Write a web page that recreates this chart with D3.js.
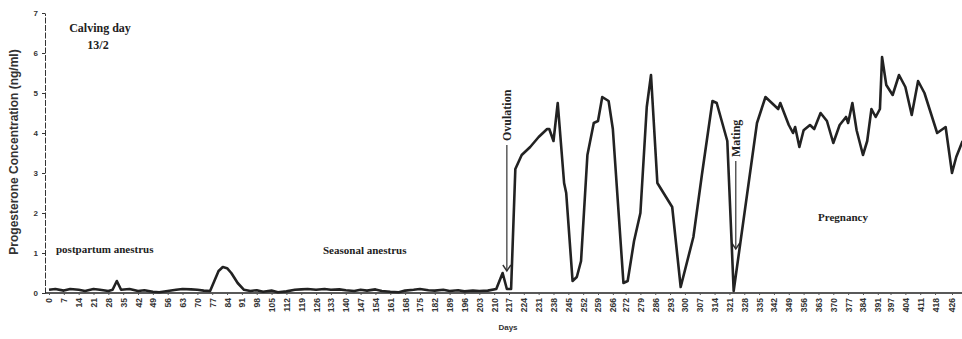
<!DOCTYPE html>
<html>
<head>
<meta charset="utf-8">
<script src="https://cdn.jsdelivr.net/npm/d3@7"></script>
<style>
  body { margin: 0; background: #fff; }
  svg { display: block; }
</style>
</head>
<body>
<div id="canvas"></div>
<script>
// tick labels on the x axis (days)
const dayTicks = [0,7,14,21,28,35,42,49,56,63,70,77,84,91,98,105,112,119,126,133,140,147,154,161,168,175,182,189,196,203,210,217,224,231,238,245,252,259,266,
  272,279,286,293,300,307,314,321,328,335,342,349,356,363,370,377,384,391,397,404,411,418,426];
const yTicks = [0,1,2,3,4,5,6,7];

// sample days and progesterone values (ng/ml)
const days = [0,3,7,10,14,17,21,24,28,30,32,34,38,42,45,49,52,56,60,63,67,70,73,76,78,80,82,84,86,89,92,95,98,101,105,108,112,116,119,122,126,130,133,137,140,144,147,150,154,157,161,165,168,172,175,179,182,186,189,193,196,200,203,207,211,214,216,218,
  220,223,227,231,235,236,238,240,243,244,247,249,251,254,257,259,261,264,266,271,273,276,279,282,284,287,294,298,304,308,313,315,320,323,
  334,338,342,344,345,349,351,352,354,356,359,361,364,367,370,373,376,377,379,381,384,386,388,390,392,393,395,398,401,404,407,410,413,419,423,426,428,431];
const values = [0.08,0.1,0.06,0.1,0.08,0.05,0.1,0.08,0.05,0.08,0.3,0.08,0.1,0.05,0.07,0.03,0.02,0.05,0.08,0.1,0.09,0.08,0.06,0.05,0.3,0.55,0.65,0.62,0.5,0.25,0.08,0.05,0.07,0.03,0.06,0.02,0.04,0.08,0.09,0.1,0.08,0.1,0.08,0.09,0.07,0.05,0.08,0.06,0.09,0.05,0.03,0.02,0.06,0.08,0.1,0.07,0.06,0.08,0.05,0.07,0.04,0.06,0.05,0.06,0.1,0.5,0.1,0.1,
  3.1,3.45,3.65,3.9,4.1,4.1,3.8,4.75,2.75,2.5,0.3,0.4,0.8,3.45,4.25,4.3,4.9,4.8,4.1,0.25,0.3,1.3,2.0,4.65,5.45,2.75,2.15,0.15,1.4,2.95,4.8,4.75,3.8,0.05,
  4.25,4.9,4.7,4.6,4.75,4.2,4.0,4.15,3.65,4.07,4.2,4.1,4.5,4.3,3.75,4.2,4.4,4.25,4.75,4.07,3.45,3.8,4.6,4.4,4.6,5.9,5.2,4.95,5.45,5.15,4.45,5.3,5.0,4.0,4.15,3.0,3.4,3.8];

// event arrows: label, day, value where the arrow points, top of arrow
const eventNames = ["Ovulation", "Mating"];
const eventDays = [216, 324];
const eventTips = [0.55, 1.1];
const eventTops = [3.7, 3.3];

class ChartCreator {
  constructor() {
    this.width = 962;
    this.height = 339;
  }

  GetRenderSVG() {
    return d3.select("#canvas").append("svg")
      .attr("width", this.width)
      .attr("height", this.height);
  }

  GetXScale() {
    return d3.scaleLinear().domain([0, 426]).range([49, 952]);
  }

  GetYScale() {
    return d3.scaleLinear().domain([0, 7]).range([293, 13]);
  }

  DrawYScale(svg, yScale) {
    let g = svg.append("g")
      .attr("transform", "translate(45,0)")
      .call(d3.axisLeft(yScale).tickValues(yTicks).tickFormat(d3.format("d"))
        .tickSize(3).tickPadding(4).tickSizeOuter(0));
    g.select(".domain").attr("stroke", "#333").attr("stroke-dasharray", "6 1.5");
    g.selectAll(".tick line").attr("stroke", "#333");
    g.selectAll("text")
      .attr("font-family", "Liberation Sans, Arial, sans-serif")
      .attr("font-weight", "bold")
      .attr("font-size", "8px")
      .attr("fill", "#333");
  }

  DrawXScale(svg, xScale) {
    svg.append("line")
      .attr("x1", 45).attr("x2", 962)
      .attr("y1", 293).attr("y2", 293)
      .attr("stroke", "#222").attr("stroke-width", 1.5);
    let g = svg.append("g")
      .attr("transform", "translate(0,293)")
      .call(d3.axisBottom(xScale).tickValues(dayTicks).tickSize(2).tickSizeOuter(0));
    g.select(".domain").remove();
    g.selectAll(".tick line").attr("stroke", "#555");
    g.selectAll("text")
      .attr("transform", "rotate(-90)")
      .attr("text-anchor", "end")
      .attr("dy", "0.35em")
      .attr("x", -5)
      .attr("y", 0)
      .attr("font-family", "Liberation Sans, Arial, sans-serif")
      .attr("font-weight", "bold")
      .attr("font-size", "8.5px")
      .attr("fill", "#333");
  }

  DrawLine(svg, xScale, yScale) {
    let line = d3.line()
      .x((d, i) => xScale(days[i]))
      .y(d => yScale(d));
    svg.append("path")
      .attr("fill", "none")
      .attr("stroke", "#222")
      .attr("stroke-width", 2.6)
      .attr("stroke-linejoin", "round")
      .attr("d", line(values));
  }

  DrawEvents(svg, xScale, yScale) {
    eventNames.forEach((name, i) => {
      let x = xScale(eventDays[i]);
      let tip = yScale(eventTips[i]);
      let top = yScale(eventTops[i]);
      svg.append("line")
        .attr("x1", x).attr("x2", x)
        .attr("y1", top).attr("y2", tip)
        .attr("stroke", "#333").attr("stroke-width", 1.2);
      // open arrow head
      svg.append("path")
        .attr("d", "M" + (x - 4) + "," + (tip - 6) + "L" + x + "," + tip + "L" + (x + 4) + "," + (tip - 6))
        .attr("fill", "none").attr("stroke", "#333").attr("stroke-width", 1.4);
      svg.append("text")
        .attr("transform", "translate(" + (x + 4) + "," + (top - 4) + ") rotate(-90)")
        .attr("font-family", "Liberation Serif, Times New Roman, serif")
        .attr("font-weight", "bold")
        .attr("font-size", "12px")
        .attr("fill", "#222")
        .text(name);
    });
  }

  DrawTexts(svg) {
    let serif = "Liberation Serif, Times New Roman, serif";
    let notes = [
      { t: "Calving day", x: 100, y: 32, a: "middle", s: 12 },
      { t: "13/2", x: 98, y: 49, a: "middle", s: 12 },
      { t: "postpartum anestrus", x: 56, y: 253, a: "start", s: 11 },
      { t: "Seasonal anestrus", x: 323, y: 254, a: "start", s: 11 },
      { t: "Pregnancy", x: 818, y: 221, a: "start", s: 11 }
    ];
    notes.forEach(n => {
      svg.append("text")
        .attr("x", n.x).attr("y", n.y)
        .attr("text-anchor", n.a)
        .attr("font-family", serif)
        .attr("font-weight", "bold")
        .attr("font-size", n.s + "px")
        .attr("fill", "#222")
        .text(n.t);
    });

    svg.append("text")
      .attr("transform", "translate(18,152) rotate(-90)")
      .attr("text-anchor", "middle")
      .attr("font-family", "Liberation Sans, Arial, sans-serif")
      .attr("font-weight", "bold")
      .attr("font-size", "12px")
      .attr("fill", "#333")
      .text("Progesterone Concentration (ng/ml)");

    svg.append("text")
      .attr("x", 508).attr("y", 330)
      .attr("text-anchor", "middle")
      .attr("font-family", "Liberation Sans, Arial, sans-serif")
      .attr("font-weight", "bold")
      .attr("font-size", "8px")
      .attr("fill", "#333")
      .text("Days");
  }

  DrawChart() {
    let svg = this.GetRenderSVG();
    let xScale = this.GetXScale();
    let yScale = this.GetYScale();
    this.DrawYScale(svg, yScale);
    this.DrawXScale(svg, xScale);
    this.DrawEvents(svg, xScale, yScale);
    this.DrawLine(svg, xScale, yScale);
    this.DrawTexts(svg);
  }
}

new ChartCreator().DrawChart();
</script>
</body>
</html>
